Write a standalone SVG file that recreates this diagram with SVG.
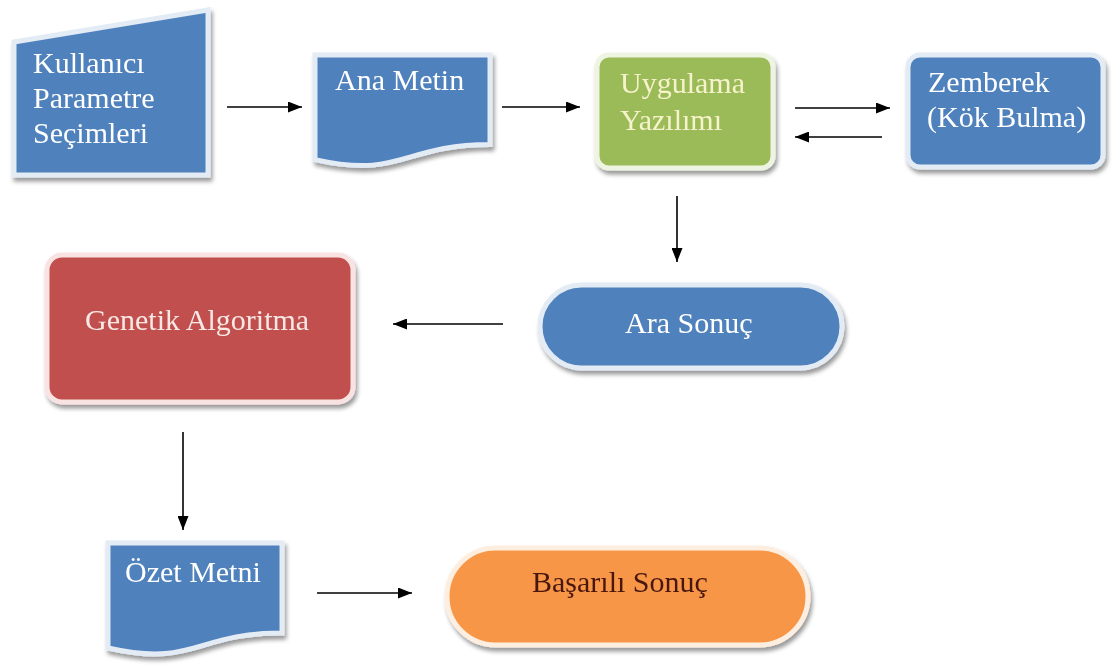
<svg xmlns="http://www.w3.org/2000/svg" width="1113" height="672" viewBox="0 0 1113 672">
<style>
.lbl{font-family:"Liberation Serif","Times New Roman",serif;font-size:30px;}
.w{fill:#ffffff;}
.g{fill:#f6f2cc;}
.r{fill:#f7e8e6;}
.d{fill:#4a1810;}
.con{stroke:#000;stroke-width:1.6;fill:none;marker-end:url(#ah);}
.blue{fill:#4f81bd;stroke:#e3ebf5;stroke-width:5;}
.green{fill:#9bbb59;stroke:#eef4e2;stroke-width:5;}
.red{fill:#c0504d;stroke:#f8e3e2;stroke-width:5;}
.orange{fill:#f79646;stroke:#fdeee0;stroke-width:5;}
</style>
<defs>
<filter id="sh" x="-10%" y="-10%" width="130%" height="140%">
<feDropShadow dx="2" dy="4" stdDeviation="2" flood-color="#000" flood-opacity="0.4"/>
</filter>
<marker id="ah" viewBox="0 0 14 11" refX="14" refY="5.5" markerWidth="14" markerHeight="11" markerUnits="userSpaceOnUse" orient="auto">
<path d="M0,0 L14,5.5 L0,11 Z" fill="#000"/>
</marker>
</defs>
<rect width="1113" height="672" fill="#ffffff"/>

<g id="connectors">
<line class="con" x1="227" y1="107" x2="302" y2="107"/>
<line class="con" x1="502" y1="107" x2="580" y2="107"/>
<line class="con" x1="795" y1="108" x2="890" y2="108"/>
<line class="con" x1="882" y1="137" x2="795" y2="137"/>
<line class="con" x1="677" y1="196" x2="677" y2="262"/>
<line class="con" x1="503" y1="324" x2="393" y2="324"/>
<line class="con" x1="183" y1="432" x2="183" y2="530"/>
<line class="con" x1="317" y1="593" x2="412" y2="593"/>
</g>

<g id="kullanici" filter="url(#sh)">
<path class="blue" d="M14,42 L208,10 V175 H14 Z"/>
<text class="lbl w" x="33" y="73">Kullanıcı</text>
<text class="lbl w" x="33" y="108">Parametre</text>
<text class="lbl w" x="33" y="143">Seçimleri</text>
</g>

<g id="ana-metin" filter="url(#sh)">
<path class="blue" d="M315,55 H490 V144.6 C402.5,144.6 402.5,179 315,159.6 Z"/>
<text class="lbl w" x="335" y="90">Ana Metin</text>
</g>

<g id="uygulama" filter="url(#sh)">
<rect class="green" x="597" y="55" width="176" height="113" rx="12"/>
<text class="lbl g" x="620" y="93">Uygulama</text>
<text class="lbl g" x="620" y="130">Yazılımı</text>
</g>

<g id="zemberek" filter="url(#sh)">
<rect class="blue" x="908" y="55" width="195" height="112" rx="12"/>
<text class="lbl w" x="928" y="92">Zemberek</text>
<text class="lbl w" x="927" y="127">(Kök Bulma)</text>
</g>

<g id="ara-sonuc" filter="url(#sh)">
<rect class="blue" x="540" y="285" width="302" height="83" rx="41.5"/>
<text class="lbl w" x="625" y="333">Ara Sonuç</text>
</g>

<g id="genetik" filter="url(#sh)">
<rect class="red" x="47" y="255" width="306" height="147" rx="15"/>
<text class="lbl r" x="85" y="330">Genetik Algoritma</text>
</g>

<g id="ozet-metni" filter="url(#sh)">
<path class="blue" d="M108,543 H282 V633 C195,633 195,667.5 108,648 Z"/>
<text class="lbl w" x="125" y="582">Özet Metni</text>
</g>

<g id="basarili" filter="url(#sh)">
<rect class="orange" x="447" y="548" width="361" height="97" rx="48.5"/>
<text class="lbl d" x="532" y="592">Başarılı Sonuç</text>
</g>
</svg>
